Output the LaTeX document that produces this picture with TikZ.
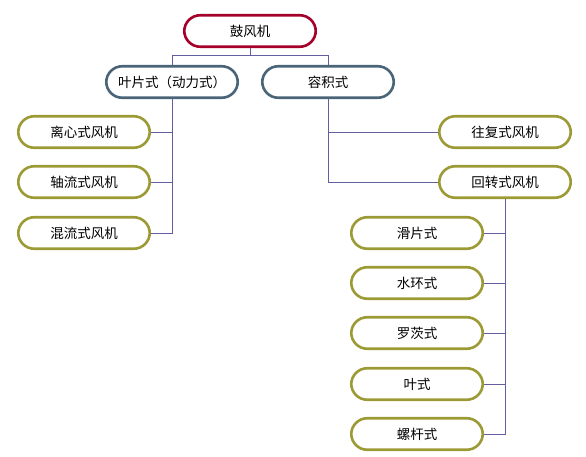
\documentclass[tikz,border=0pt]{standalone}
\usepackage{fontspec}
\setmainfont{Noto Sans CJK SC}
\begin{document}
\begin{tikzpicture}[x=1pt,y=-1pt,
  box/.style={draw, line width=2.6pt, rectangle, rounded corners=16pt,
    minimum width=131.5pt, minimum height=31.5pt, inner sep=0pt, fill=white,
    font=\fontsize{13.5}{15}\selectfont},
  rootbox/.style={box, draw=rootc},
  midbox/.style={box, draw=midc},
  leafbox/.style={box, draw=leafc},
  conn/.style={draw=connc, line width=0.9pt}]
\definecolor{rootc}{HTML}{A5002A}
\definecolor{midc}{HTML}{4A6578}
\definecolor{leafc}{HTML}{9C9A35}
\definecolor{connc}{HTML}{625E9F}
\path[use as bounding box, fill=white] (0,0) rectangle (586,457);
\node[rootbox] (root) at (250,31) {鼓风机};
\node[midbox] (n1) at (172,82) {叶片式（动力式）};
\node[midbox] (n2) at (328,82) {容积式};
\node[leafbox] (a1) at (84,132) {离心式风机};
\node[leafbox] (a2) at (84,182) {轴流式风机};
\node[leafbox] (a3) at (84,233) {混流式风机};
\node[leafbox] (b1) at (505,132) {往复式风机};
\node[leafbox] (b2) at (505,182) {回转式风机};
\node[leafbox] (c1) at (417,233) {滑片式};
\node[leafbox] (c2) at (417,283) {水环式};
\node[leafbox] (c3) at (417,333) {罗茨式};
\node[leafbox] (c4) at (417,384) {叶式};
\node[leafbox] (c5) at (417,434) {螺杆式};
\coordinate (bus) at (250,55);
\path[conn] (root.south) -- (bus) -| (n1.north);
\path[conn] (bus) -| (n2.north);
\path[conn] (n1.south) |- (a1.east);
\path[conn] (n1.south) |- (a2.east);
\path[conn] (n1.south) |- (a3.east);
\path[conn] (n2.south) |- (b1.west);
\path[conn] (n2.south) |- (b2.west);
\path[conn] (b2.south) |- (c1.east);
\path[conn] (b2.south) |- (c2.east);
\path[conn] (b2.south) |- (c3.east);
\path[conn] (b2.south) |- (c4.east);
\path[conn] (b2.south) |- (c5.east);
\end{tikzpicture}
\end{document}
